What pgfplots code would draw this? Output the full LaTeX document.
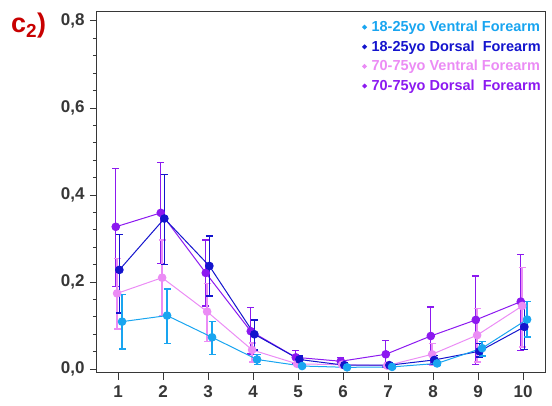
\documentclass[border=0pt]{standalone}
\usepackage{pgfplots}
\usepackage{pgfplotstable}
\pgfplotsset{compat=1.18}
\usepackage{fontspec}
\setmainfont{Liberation Sans}
\definecolor{lblue}{RGB}{25,165,240}
\definecolor{dblue}{RGB}{20,20,205}
\definecolor{lpink}{RGB}{235,140,245}
\definecolor{dpurple}{RGB}{140,25,240}
\definecolor{tred}{RGB}{200,0,0}
\definecolor{axgray}{RGB}{55,55,55}

\pgfplotstableread{
x y hi lo
1 0.327 0.461 0.189
2 0.359 0.475 0.243
3 0.221 0.297 0.145
4 0.087 0.141 0.035
5 0.027 0.042 0.012
6 0.018 0.026 0.010
7 0.034 0.065 0.005
8 0.076 0.143 0.010
9 0.113 0.214 0.011
10 0.155 0.264 0.042
}\tblpurple
\pgfplotstableread{
x y hi lo
1 0.174 0.254 0.092
2 0.210 0.297 0.123
3 0.132 0.197 0.064
4 0.044 0.060 0.016
5 0.012 0.018 0.006
6 0.010 0.015 0.005
7 0.008 0.012 0.004
8 0.034 0.059 0.009
9 0.078 0.140 0.016
10 0.145 0.233 0.051
}\tblpink
\pgfplotstableread{
x y hi lo
1 0.228 0.310 0.129
2 0.346 0.448 0.241
3 0.237 0.306 0.168
4 0.080 0.113 0.044
5 0.022 0.030 0.014
6 0.009 0.014 0.004
7 0.009 0.014 0.004
8 0.021 0.032 0.010
9 0.041 0.059 0.028
10 0.097 0.147 0.045
}\tbldblue
\pgfplotstableread{
x y hi lo
1 0.109 0.172 0.046
2 0.123 0.184 0.059
3 0.073 0.109 0.034
4 0.022 0.034 0.010
5 0.007 0.011 0.003
6 0.004 0.007 0.001
7 0.005 0.008 0.002
8 0.013 0.018 0.008
9 0.048 0.064 0.030
10 0.114 0.155 0.074
}\tbllblue

\pgfplotsset{
  ser/.style={color=#1, line width=1pt, mark=*, mark size=3.8pt,
    error bars/y dir=both, error bars/y explicit,
    error bars/error bar style={line width=1.3pt, solid},
    error bars/error mark options={rotate=90, mark size=3.5pt, line width=1.3pt}},
}

\begin{document}
\begin{tikzpicture}
\begin{axis}[
  at={(0,0)}, anchor=south west,
  scale only axis, width=449pt, height=361pt,
  xmin=0.533, xmax=10.51, ymin=-0.009, ymax=0.8207,
  xtick={1,...,10}, ytick={0,0.2,0.4,0.6,0.8},
  minor y tick num=4,
  tick pos=left, tick align=outside,
  major tick length=7pt, minor tick length=4pt,
  axis line style={axgray, line width=1pt},
  every tick/.style={axgray, line width=1pt},
  tick label style={font=\bfseries\fontsize{17}{19}\selectfont, text=axgray},
  /pgf/number format/assume math mode=true,
  yticklabel style={xshift=-2pt, /pgf/number format/.cd, use comma, fixed, fixed zerofill, precision=1},
  xticklabel style={yshift=-2pt},
  legend cell align=left,
  reverse legend,
  legend style={draw=none, fill=none, at={(1,1)}, anchor=north east, xshift=-2pt, yshift=-6pt,
    font=\bfseries\fontsize{14.5}{16}\selectfont, row sep=3.6pt, inner sep=1pt},
  legend image code/.code={\fill[#1] (0pt,0pt) circle (1.8pt); \path[draw=none,fill=none] (-2pt,0pt) rectangle (5pt,0.1pt);},
]
\addplot[ser=dpurple]
  table[x expr=\thisrow{x}-0.05, y=y, y error plus expr=\thisrow{hi}-\thisrow{y}, y error minus expr=\thisrow{y}-\thisrow{lo}] {\tblpurple};
\addplot[ser=lpink]
  table[x expr=\thisrow{x}-0.02, y=y, y error plus expr=\thisrow{hi}-\thisrow{y}, y error minus expr=\thisrow{y}-\thisrow{lo}] {\tblpink};
\addplot[ser=dblue]
  table[x expr=\thisrow{x}+0.03, y=y, y error plus expr=\thisrow{hi}-\thisrow{y}, y error minus expr=\thisrow{y}-\thisrow{lo}] {\tbldblue};
\addplot[ser=lblue]
  table[x expr=\thisrow{x}+0.09, y=y, y error plus expr=\thisrow{hi}-\thisrow{y}, y error minus expr=\thisrow{y}-\thisrow{lo}] {\tbllblue};
\legend{\textcolor{dpurple}{70-75yo Dorsal\ \ Forearm},
        \textcolor{lpink}{70-75yo Ventral Forearm},
        \textcolor{dblue}{18-25yo Dorsal\ \ Forearm},
        \textcolor{lblue}{18-25yo Ventral Forearm}}
\end{axis}
\node[anchor=west, text=tred, font=\bfseries\fontsize{27}{29}\selectfont, inner sep=0pt] at (-86pt,347pt) {c$_{\mathbf{2}}$)};
\pgfresetboundingbox
\path (-97pt,-33pt) rectangle (455pt,373pt);
\end{tikzpicture}
\end{document}
